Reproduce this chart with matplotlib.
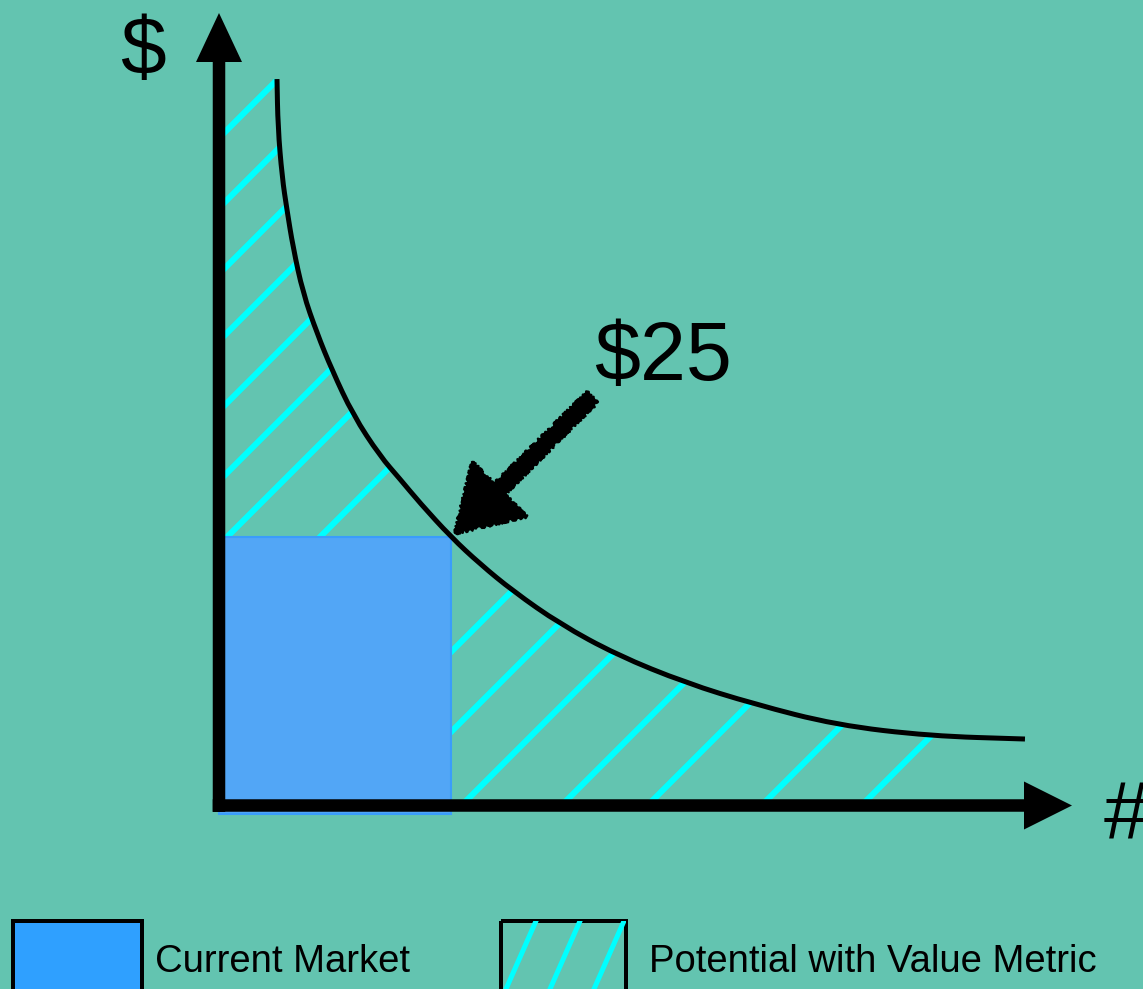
import matplotlib
matplotlib.use('Agg')
import matplotlib.pyplot as plt
from matplotlib.patches import PathPatch, Rectangle, FancyArrowPatch
from matplotlib.path import Path
import numpy as np

# ---------------- data (quantity in units, price in $) ----------------
curve_qty = [2.50, 2.54, 2.72, 2.93, 3.19, 3.62, 4.22, 4.87, 5.78, 6.94, 7.80,
             8.66, 10.0, 11.25, 12.67, 14.70, 17.16, 20.13, 23.06, 26.59, 30.65, 34.74]
curve_usd = [67.64, 63.18, 58.52, 55.45, 52.00, 47.72, 44.00, 40.55, 36.36, 32.54, 30.40,
             28.17, 25.0, 22.49, 19.97, 16.90, 14.01, 11.41, 9.45, 7.50, 6.47, 6.19]
current_qty = 10.0
current_price = 25.0
price_label = '$25'
y_label = '$'
x_label = '#'
legend_labels = ['Current Market', 'Potential with Value Metric']

# ---------------- layout / style ----------------
W, H = 1143, 989
ORIGIN = (219, 805.5)      # pixel of (0,0), measured from top-left
PX_Q = 23.2                # pixels per unit
PX_P = 10.74               # pixels per dollar
BG = '#63C4B0'
RECT_BLUE = '#52A6F6'
LEG_BLUE = '#2FA0FF'
CYAN = '#00FFFF'
FONT = ['Liberation Sans', 'DejaVu Sans']
PT = 0.72                  # points per pixel at dpi 100

plt.rcParams['font.family'] = FONT


def smooth_path(pts):
    # quadratic bezier through the midpoints, so the drawn curve has no corners
    verts = [pts[0], (pts[0] + pts[1]) / 2]
    codes = [Path.MOVETO, Path.LINETO]
    for i in range(1, len(pts) - 1):
        verts += [pts[i], (pts[i] + pts[i + 1]) / 2]
        codes += [Path.CURVE3, Path.CURVE3]
    verts.append(pts[-1])
    codes.append(Path.LINETO)
    return verts, codes


fig = plt.figure(figsize=(W / 100, H / 100), dpi=100, facecolor=BG)
ax = fig.add_axes([0, 0, 1, 1])
ax.set_facecolor(BG)
ax.set_xlim(-ORIGIN[0] / PX_Q, (W - ORIGIN[0]) / PX_Q)
ax.set_ylim(-(H - ORIGIN[1]) / PX_P, ORIGIN[1] / PX_P)
ax.axis('off')

pts = np.column_stack([curve_qty, curve_usd])
cv, cc = smooth_path(pts)

# hatched "potential" area under the curve
rv = [(0, 0), (0, curve_usd[0])] + cv + [(curve_qty[-1], 0), (0, 0)]
rc = [Path.MOVETO, Path.LINETO, Path.LINETO] + cc[1:] + [Path.LINETO, Path.CLOSEPOLY]
region = PathPatch(Path(rv, rc), fc='none', ec='none')
ax.add_patch(region)
slope = PX_Q / PX_P
hatch_c = [357, 427, 493, 560, 630, 700, 764, 857,
           1103, 1183, 1267, 1367, 1453, 1567, 1667]
qq = np.array([-10, 45])
for c in hatch_c:
    q0 = (c - ORIGIN[1] - ORIGIN[0]) / PX_Q
    ln, = ax.plot(qq, slope * (qq - q0), color=CYAN, lw=6 * PT,
                  solid_capstyle='butt', zorder=1)
    ln.set_clip_path(region)

# current market block
ax.bar(0, current_price + 0.8, width=current_qty, bottom=-0.8, align='edge',
       color=RECT_BLUE, edgecolor='#3A9DFB', lw=1.5, zorder=2)

# demand curve
ax.add_patch(PathPatch(Path(cv, cc), fc='none', ec='black', lw=5 * PT,
                       capstyle='butt', zorder=3))

# axes with arrow heads
y_tip = (ORIGIN[1] - 13) / PX_P
x_tip = (1072 - ORIGIN[0]) / PX_Q
ax.arrow(0, -0.6, 0, y_tip + 0.6, width=12.5 / PX_Q, head_width=46 / PX_Q,
         head_length=49 / PX_P, length_includes_head=True,
         fc='black', ec='none', zorder=4)
ax.arrow(-0.27, 0, x_tip + 0.27, 0, width=12.5 / PX_P, head_width=48 / PX_P,
         head_length=48 / PX_Q, length_includes_head=True,
         fc='black', ec='none', zorder=4)

ax.text(-4.27, 68.1, y_label, fontsize=59, va='baseline', ha='left', zorder=5)
ax.text(38.15, -3.03, x_label, fontsize=59, va='baseline', ha='left', zorder=5)

# $25 callout, a hand drawn looking arrow
ax.text(16.15, 39.6, price_label, fontsize=59.5, va='baseline', ha='left', zorder=5)
arr = FancyArrowPatch((16.08, 38.0), (current_qty + 0.17, current_price + 0.35),
                      arrowstyle='simple,head_length=45,head_width=55,tail_width=10.5',
                      mutation_scale=1, fc='black', ec='black', lw=1.8,
                      shrinkA=0, shrinkB=0, zorder=5)
arr.set_sketch_params(scale=1.5, length=3, randomness=6)
ax.add_patch(arr)

# legend (drawn in pixel space)
lg = fig.add_axes([0, 0, 1, 1])
lg.set_xlim(0, W)
lg.set_ylim(H, 0)
lg.axis('off')
lg.patch.set_alpha(0)

lg.add_patch(Rectangle((13, 921), 129, 90, fc=LEG_BLUE, ec='black', lw=4 * PT,
                       clip_on=False))
box = Rectangle((501, 921), 125, 90, fc='none', ec='black', lw=4 * PT, clip_on=False)
lg.add_patch(box)
for xb in [506, 550, 594]:
    ln, = lg.plot([xb - 10, xb + 40], [989 + 22.7, 989 - 90.7], color=CYAN,
                  lw=5 * PT, solid_capstyle='butt')
    ln.set_clip_path(box)

lg.text(155, 972, legend_labels[0], fontsize=27.5, va='baseline', ha='left')
lg.text(649, 972, legend_labels[1], fontsize=27.5, va='baseline', ha='left')

plt.savefig('out.png', dpi=100, facecolor=BG)
plt.close()
